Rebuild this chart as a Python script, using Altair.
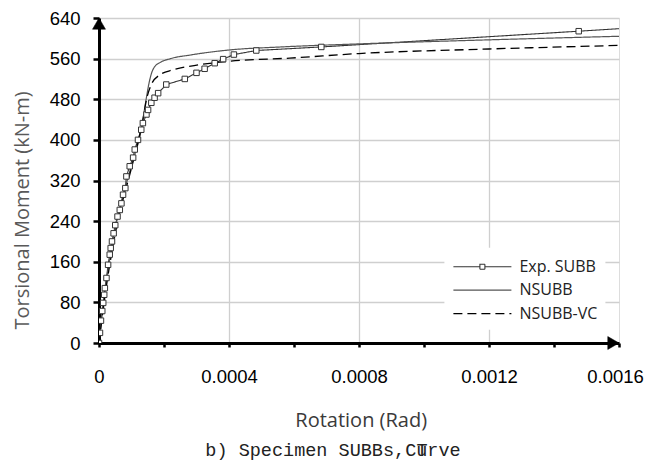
import altair as alt
import pandas as pd

# ---------------- data ----------------
exp_rot = [0, 0.000003, 0.000006, 0.00001, 0.000013, 0.000016, 0.000018, 0.000023, 0.000028,
           0.000033, 0.000036, 0.00004, 0.000045, 0.00005, 0.000057, 0.000064, 0.000069,
           0.000074, 0.000081, 0.0000843, 0.0000945, 0.000105, 0.00011, 0.00012, 0.00013,
           0.000135, 0.000146, 0.000151, 0.000161, 0.000171, 0.000182, 0.000207, 0.000264,
           0.0003, 0.000325, 0.000356, 0.000382, 0.000415, 0.000484, 0.000684, 0.001476, 0.00165]
exp_m = [0, 20, 44, 63, 79, 95, 108, 128, 154,
         174, 187, 200, 216, 232, 249, 262, 275,
         292, 305, 328, 348, 365, 381, 400, 420,
         433, 450, 459, 473, 483, 492, 509, 520,
         532, 540, 551, 559, 568, 576, 583, 614, 621]

nsubb_rot = [0, 0.00002, 0.00005, 0.0001, 0.00013, 0.000145, 0.000155, 0.000162, 0.00017,
             0.00019, 0.00022, 0.00028, 0.0004, 0.00056, 0.0008, 0.0012, 0.0016]
nsubb_m = [0, 110, 225, 350, 420, 480, 515, 532, 543,
           553, 560, 567, 577, 583, 589, 597, 604]

vc_rot = [0, 0.00002, 0.00005, 0.0001, 0.00012, 0.000135, 0.000146, 0.000161, 0.000187,
          0.000228, 0.00031, 0.000402, 0.000587, 0.0008, 0.0012, 0.0016]
vc_m = [0, 100, 215, 345, 395, 440, 479, 509, 528,
        538, 548, 555, 561, 570, 579, 586]

series_names = ["Exp. SUBB", "NSUBB", "NSUBB-VC"]
x_ticks = [0, 0.0002, 0.0004, 0.0006, 0.0008, 0.001, 0.0012, 0.0014, 0.0016]
y_ticks = [0, 80, 160, 240, 320, 400, 480, 560, 640]
x_title = "Rotation (Rad)"
y_title = "Torsional Moment (kN-m)"
caption = "b) Specimen SUBBs,Curve"

exp_df = pd.DataFrame({"rot": exp_rot, "M": exp_m, "series": series_names[0]})
model_df = pd.concat([
    pd.DataFrame({"rot": nsubb_rot, "M": nsubb_m, "series": series_names[1]}),
    pd.DataFrame({"rot": vc_rot, "M": vc_m, "series": series_names[2]}),
])
arrow_up_df = pd.DataFrame({"rot": [0.0], "M": [640.0]})
arrow_right_df = pd.DataFrame({"rot": [0.0016], "M": [0.0]})

# ---------------- scales / axes ----------------
xs = alt.Scale(domain=[0, 0.0016], nice=False, zero=False)
ys = alt.Scale(domain=[0, 640], nice=False)

x_axis_props = dict(
    values=x_ticks, title=x_title,
    labelExpr="round(datum.value*10000) % 4 == 0 ? (datum.value == 0 ? '0' : format(datum.value, '.4f')) : ''",
    gridOpacity={"condition": {"test": "datum.value > 0.0001 && datum.value < 0.0015 && round(datum.value*10000) % 4 == 0", "value": 1}, "value": 0},
    grid=True, gridColor="#cfcfcf", gridWidth=1.3,
    domainColor="black", domainWidth=3, tickColor="black", tickWidth=2.5, tickSize=4,
    labelFont="Liberation Sans", labelFontSize=18.5, labelColor="black", labelPadding=20,
    labelOverlap=False, labelFlush=False, labelBound=False,
    titleFont="Open Sans", titleFontSize=20, titleFontWeight="normal", titleColor="#3a3a3a",
    titleX=261.7, titleY=77, titleBaseline="middle", titleAlign="center",
)
try:
    x_axis = alt.Axis(**x_axis_props, labelOffset={"condition": {"test": "datum.value > 0.00155", "value": -4}, "value": 0})
    x_axis.to_dict()
except Exception:
    x_axis = alt.Axis(**x_axis_props)

y_axis = alt.Axis(
    values=y_ticks, title=y_title,
    grid=True, gridColor="#cfcfcf", gridWidth=1.3,
    domainColor="black", domainWidth=3, tickColor="black", tickWidth=2.5, tickSize=6,
    labelFont="Liberation Sans", labelFontSize=18.5, labelColor="black", labelPadding=13,
    labelOverlap=False, labelFlush=False, labelBound=False,
    titleFont="Open Sans", titleFontSize=20, titleFontWeight="normal", titleColor="#595959",
    titleX=-77, titleY=192, titleBaseline="middle", titleAlign="center", titleAngle=-90,
)

# legend key symbols (custom SVG paths): plain line, and line with a small square
exp_path = "M-4.8,0H-2.15M-1.65,0H1M-2.15,-0.25H-1.65V0.25H-2.15Z"
line_path = "M-4.8,0H1"

leg = alt.Legend(
    title=None, orient="none", legendX=345.4, legendY=229.7, padding=8,
    fillColor="white", symbolSize=400, rowPadding=4.5, labelOffset=7, symbolOffset=38,
    symbolType=line_path,
    labelFont="Open Sans", labelFontSize=16, labelColor="#222222",
    symbolFillColor="white",
)

color_s = alt.Scale(domain=series_names, range=["#333333", "#555555", "#000000"])
width_s = alt.Scale(domain=series_names, range=[1.1, 1.3, 2.8])
dash_s = alt.Scale(domain=series_names, range=[[1, 0], [1, 0], [9, 5]])
shape_s = alt.Scale(domain=series_names, range=[exp_path, line_path, line_path])


def line_enc(ch):
    return ch.encode(
        x=alt.X("rot:Q", scale=xs, axis=x_axis),
        y=alt.Y("M:Q", scale=ys, axis=y_axis),
        color=alt.Color("series:N", scale=color_s, legend=leg),
        strokeWidth=alt.StrokeWidth("series:N", scale=width_s, legend=leg),
        strokeDash=alt.StrokeDash("series:N", scale=dash_s, legend=leg),
        order="rot:Q",
    )


exp_line = line_enc(alt.Chart(exp_df).mark_line(interpolate="linear", clip=True))
model_line = line_enc(alt.Chart(model_df).mark_line(interpolate="monotone", clip=True))

exp_pts = alt.Chart(exp_df).mark_point(
    shape="square", size=30, filled=False, fill="white", fillOpacity=1,
    stroke="#333333", strokeWidth=1, opacity=1, clip=True
).encode(x=alt.X("rot:Q", scale=xs), y=alt.Y("M:Q", scale=ys))

# key-only layer: supplies the legend's symbol shapes; its one point lies outside the
# plotted range and is clipped away
key_layer = alt.Chart(exp_df).transform_filter("datum.rot > 0.0016").mark_point(
    clip=True, filled=False, opacity=1
).encode(
    x=alt.X("rot:Q", scale=xs), y=alt.Y("M:Q", scale=ys),
    shape=alt.Shape("series:N", scale=shape_s, legend=leg),
    color=alt.Color("series:N", scale=color_s, legend=leg),
    strokeWidth=alt.StrokeWidth("series:N", scale=width_s, legend=leg),
    strokeDash=alt.StrokeDash("series:N", scale=dash_s, legend=leg),
)

arrow_up = alt.Chart(arrow_up_df).mark_point(
    shape="triangle-up", size=169, filled=True, fill="black", stroke="black",
    strokeWidth=0.5, opacity=1, yOffset=5.6
).encode(x=alt.X("rot:Q", scale=xs), y=alt.Y("M:Q", scale=ys))
arrow_right = alt.Chart(arrow_right_df).mark_point(
    shape="triangle-right", size=169, filled=True, fill="black", stroke="black",
    strokeWidth=0.5, opacity=1, xOffset=-5.6
).encode(x=alt.X("rot:Q", scale=xs), y=alt.Y("M:Q", scale=ys))

cap = alt.Chart(pd.DataFrame({"t": [caption]})).mark_text(
    font="Liberation Mono", fontSize=18.5, color="#222222", align="center", baseline="alphabetic"
).encode(text="t:N", x=alt.value(234), y=alt.value(437.5))
cap_t = alt.Chart(pd.DataFrame({"t": ["T"]})).mark_text(
    font="Liberation Mono", fontSize=18.5, color="#222222", align="center", baseline="alphabetic"
).encode(text="t:N", x=alt.value(323), y=alt.value(437.5))

chart = alt.layer(exp_line, model_line, exp_pts, key_layer, arrow_up, arrow_right, cap, cap_t).properties(
    width=520, height=325,
    padding={"left": 91, "top": 10, "right": 27, "bottom": 117},
    autosize=alt.AutoSizeParams(type="none"),
).configure_view(stroke="black", strokeWidth=2).configure(background="white")

chart.save("out.html", embed_options={"renderer": "svg", "actions": False})
